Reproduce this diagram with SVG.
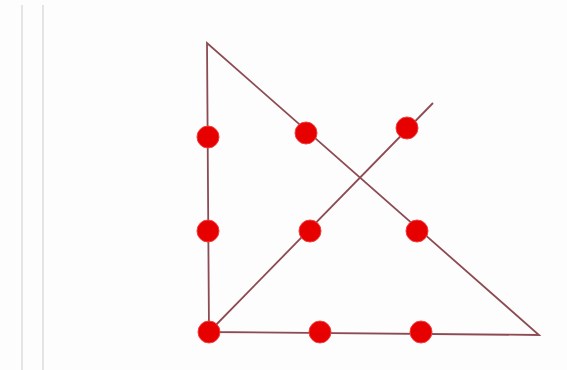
<svg xmlns="http://www.w3.org/2000/svg" width="567" height="370" viewBox="0 0 567 370">
<style>
.guide{stroke:#e4e4e4;stroke-width:2}
.edge{stroke:#8c4b52;stroke-width:1.8;fill:none;stroke-linejoin:miter}
.dot{fill:#e60000;stroke:#f04040;stroke-width:1}
</style>
<rect width="567" height="370" fill="#fdfdfd"/>
<line class="guide" x1="22" y1="5" x2="22" y2="370"/>
<line class="guide" x1="43" y1="5" x2="43" y2="370"/>
<g id="connectors">
<path class="edge" d="M207,43 L209,332 L539,335 Z"/>
<line class="edge" x1="209" y1="332" x2="433" y2="103"/>
</g>
<g id="dot-1"><circle class="dot" cx="208" cy="137" r="11"/></g>
<g id="dot-2"><circle class="dot" cx="306" cy="133" r="11"/></g>
<g id="dot-3"><circle class="dot" cx="407" cy="128" r="11"/></g>
<g id="dot-4"><circle class="dot" cx="208" cy="231" r="11"/></g>
<g id="dot-5"><circle class="dot" cx="310" cy="231" r="11"/></g>
<g id="dot-6"><circle class="dot" cx="417" cy="231" r="11"/></g>
<g id="dot-7"><circle class="dot" cx="209" cy="332" r="11"/></g>
<g id="dot-8"><circle class="dot" cx="320" cy="332" r="11"/></g>
<g id="dot-9"><circle class="dot" cx="421" cy="332" r="11"/></g>
</svg>
